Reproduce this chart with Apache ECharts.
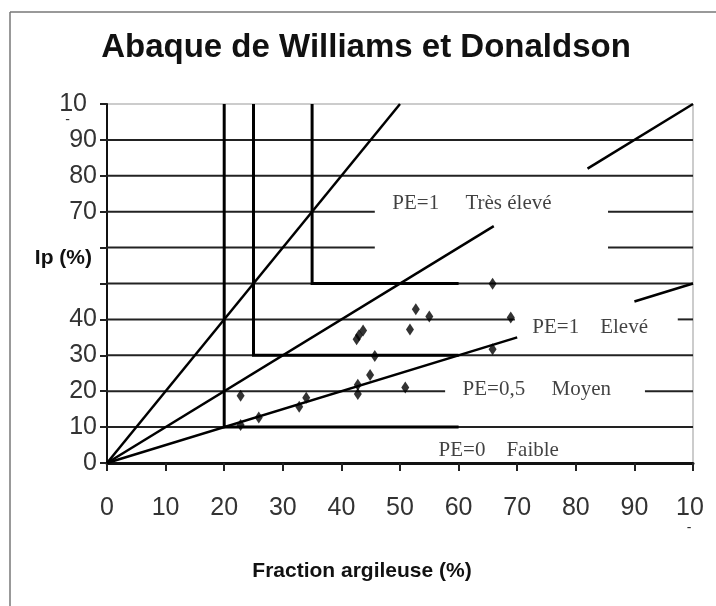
<!DOCTYPE html>
<html><head><meta charset="utf-8">
<script src="https://cdn.jsdelivr.net/npm/echarts@6/dist/echarts.min.js"></script>
<style>html,body{margin:0;padding:0;background:#fff}#c{width:716px;height:606px}</style>
</head><body><div id="c"></div>
<script>
// ---- data ----
const titleText = 'Abaque de Williams et Donaldson';
const xName = 'Fraction argileuse (%)';
const yName = 'Ip (%)';
const xTickLabels = ['0','10','20','30','40','50','60','70','80','90','10'];
const yTickLabels = ['0','10','20','30','40','','','70','80','90','10'];

// samples: clay fraction (%) and plasticity index (%)
const sampleClay = [22.8,22.8,25.9,32.8,34.0,42.8,42.8,44.9,45.7,50.9,42.6,43.0,43.7,51.7,52.7,55.0,65.8,68.9,65.8];
const sampleIp   = [18.7,10.6,12.7,15.7,18.2,19.2,21.8,24.5,29.8,21.0,34.5,35.6,36.9,37.2,42.8,40.8,49.9,40.5,31.7];

// activity lines (Ip / clay = 2, 1, 0.5), drawn as segments interrupted by the labels
const activityLine2 = [[0,0],[50,100]];
const activityLine1a = [[0,0],[66,66]];
const activityLine1b = [[82,82],[100,100]];
const activityLine05a = [[0,0],[70,35]];
const activityLine05b = [[90,45],[100,50]];

// zone boundaries (stepped)
const boundaryLow = [[20,100],[20,10],[60,10]];
const boundaryMid = [[25,100],[25,30],[60,30]];
const boundaryHigh = [[35,100],[35,50],[60,50]];

// horizontal grid segments: [Ip, fromClay, toClay]
const gridSegments = [
  [10,0,100],[20,0,57.7],[20,91.8,100],[30,0,100],[40,0,69.6],[40,97.4,100],
  [50,0,100],[60,0,45.7],[60,85.5,100],[70,0,45.7],[70,85.5,100],[80,0,100],[90,0,100]
];

// zone labels
const zoneLabels = ['PE=1     Très élevé','PE=1    Elevé','PE=0,5     Moyen','PE=0    Faible'];
const zoneLabelClay = [48.6,72.5,60.6,56.5];
const zoneLabelIp = [72.3,37.7,20.6,3.5];

const tickFont = 'Liberation Sans';
const tickSize = 25;

// ---- chart ----
const chart = echarts.init(document.getElementById('c'), null, {renderer:'canvas'});
const series = [];
gridSegments.forEach(s => series.push({
  type:'line', data:[[s[1],s[0]],[s[2],s[0]]], showSymbol:false, silent:true, z:2,
  lineStyle:{color:'#222', width:2}
}));
[activityLine2, activityLine1a, activityLine1b, activityLine05a, activityLine05b].forEach(d => series.push({
  type:'line', data:d, showSymbol:false, silent:true, z:3,
  lineStyle:{color:'#000', width:2.5}
}));
[boundaryLow, boundaryMid, boundaryHigh].forEach(d => series.push({
  type:'line', data:d, showSymbol:false, silent:true, z:3,
  lineStyle:{color:'#000', width:3, join:'miter'}
}));
series.push({
  type:'scatter', symbol:'diamond', symbolSize:[8,12], z:5,
  itemStyle:{color:'#000'},
  data: sampleClay.map((c,i)=>[c, sampleIp[i]])
});
series.push({
  type:'scatter', symbolSize:1, z:6, itemStyle:{color:'rgba(0,0,0,0)'},
  data: zoneLabels.map((t,i)=>({value:[zoneLabelClay[i], zoneLabelIp[i]], name:t})),
  label:{show:true, position:'right', distance:0, formatter:p=>p.name,
    fontFamily:'Liberation Serif', fontSize:21, color:'#111'}
});

chart.setOption({
  animation:false,
  backgroundColor:'#fff',
  title:{text:titleText, left:361, top:26, textAlign:'center',
    textStyle:{fontFamily:'Liberation Sans', fontSize:33, fontWeight:'bold', color:'#111'}},
  grid:{left:107, right:23, top:104, bottom:143, show:true, borderColor:'#999', borderWidth:1},
  xAxis:{type:'value', min:0, max:100, interval:10,
    name:xName, nameLocation:'middle', nameGap:98, nameMoveOverlap:false,
    nameTextStyle:{fontFamily:'Liberation Sans', fontWeight:'bold', fontSize:21, color:'#111', padding:[0,76,0,0]},
    splitLine:{show:false},
    axisLine:{lineStyle:{color:'#111', width:3}},
    axisTick:{length:8, lineStyle:{color:'#222', width:2}},
    axisLabel:{margin:33, fontFamily:tickFont, fontSize:tickSize, color:'#333', showMaxLabel:true,
      formatter:(v)=>{const i=Math.round(v/10); return i===10 ? '{a|'+xTickLabels[i]+'}\n{b|-}' : xTickLabels[i];},
      rich:{a:{fontFamily:tickFont, fontSize:tickSize, color:'#333', padding:[0,6,0,0]},
            b:{fontFamily:tickFont, fontSize:14, color:'#333', padding:[0,8,0,0]}}}
  },
  yAxis:{type:'value', min:0, max:100, interval:10,
    name:yName, nameLocation:'middle', nameGap:15, nameRotate:0, nameMoveOverlap:false,
    nameTextStyle:{fontFamily:'Liberation Sans', fontWeight:'bold', fontSize:21, color:'#111',
      verticalAlign:'bottom', lineHeight:50},
    splitLine:{show:false},
    axisLine:{lineStyle:{color:'#111', width:2}},
    axisTick:{length:7, lineStyle:{color:'#222', width:2}},
    axisLabel:{margin:10, fontFamily:tickFont, fontSize:tickSize, color:'#333', showMinLabel:true,
      formatter:(v)=>{const i=Math.round(v/10); return i===10 ? '{e| }\n{a|'+yTickLabels[i]+'}\n{b|-}' : yTickLabels[i];},
      rich:{e:{fontSize:8, lineHeight:8}, a:{fontFamily:tickFont, fontSize:tickSize, lineHeight:25, color:'#333', padding:[0,10,0,0]},
            b:{fontFamily:tickFont, fontSize:14, lineHeight:8, color:'#333', padding:[0,27,0,0]}}}
  },
  graphic:[
    {type:'line', shape:{x1:10, y1:12, x2:716, y2:12}, style:{stroke:'#777', lineWidth:1.5}},
    {type:'line', shape:{x1:10, y1:12, x2:10, y2:606}, style:{stroke:'#777', lineWidth:1.5}}
  ],
  series
});
</script>
</body></html>
